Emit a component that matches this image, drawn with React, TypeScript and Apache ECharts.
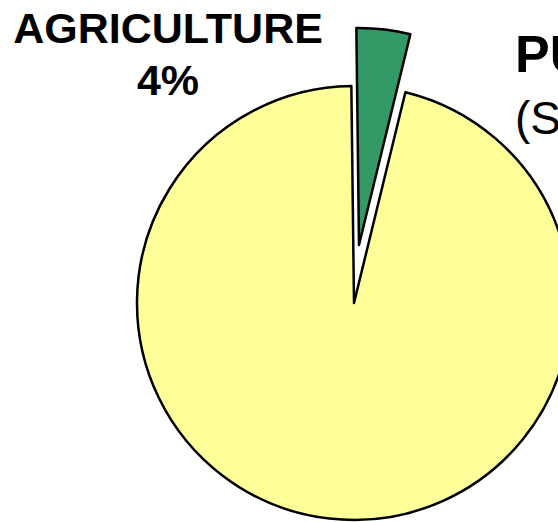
import React, { useEffect, useRef } from "react";
import * as echarts from "echarts";

const categories = ["AGRICULTURE", "PUBLIC SUPPLY"];
const subLabels = ["", "(SURFACE WATER)"];
const shares = [4, 96];
const colors = ["#339966", "#FFFF99"];
const explodedIndex = 0;

const richStyles = {
  a: { fontFamily: "Liberation Sans", fontWeight: "bold", fontSize: 43, lineHeight: 52, color: "#000" },
  b: { fontFamily: "Liberation Sans", fontWeight: "bold", fontSize: 52, lineHeight: 64, color: "#000" },
  c: { fontFamily: "Liberation Sans", fontWeight: "normal", fontSize: 46, lineHeight: 64, color: "#000" },
};

function makeSeries(visibleIndex: (i: number) => boolean, center: number[], layout: any) {
  return {
    type: "pie",
    center,
    radius: 217,
    startAngle: 90.7,
    clockwise: true,
    selectedMode: false,
    avoidLabelOverlap: false,
    silent: true,
    emphasis: { disabled: true },
    labelLine: { show: false },
    labelLayout: layout,
    label: {
      show: true,
      overflow: "none",
      formatter: (p: any) =>
        p.dataIndex === 0
          ? `{a|${p.name}}\n{a|${Math.round(p.percent)}%}`
          : `{b|${p.name}}\n{c|${subLabels[p.dataIndex]}}`,
      rich: richStyles,
    },
    data: categories.map((name, i) => {
      const vis = visibleIndex(i);
      return {
        name,
        value: shares[i],
        itemStyle: vis
          ? { color: colors[i], borderColor: "#000000", borderWidth: 2.5 }
          : { color: "rgba(0,0,0,0)", borderWidth: 0 },
        label: { show: vis },
      };
    }),
  };
}

export default function App() {
  const ref = useRef<HTMLDivElement>(null);
  useEffect(() => {
    const chart = echarts.init(ref.current!, null, { renderer: "svg" });
    chart.setOption({
      animation: false,
      backgroundColor: "#ffffff",
      series: [
        makeSeries((i) => i !== explodedIndex, [354, 303], () => ({
          x: 515,
          y: 22,
          align: "left",
          verticalAlign: "top",
        })),
        makeSeries((i) => i === explodedIndex, [359, 245], () => ({
          x: 168,
          y: 1.5,
          align: "center",
          verticalAlign: "top",
        })),
      ],
    });
    return () => chart.dispose();
  }, []);
  return <div ref={ref} style={{ position: "fixed", left: 0, top: 0, width: 558, height: 522 }} />;
}
